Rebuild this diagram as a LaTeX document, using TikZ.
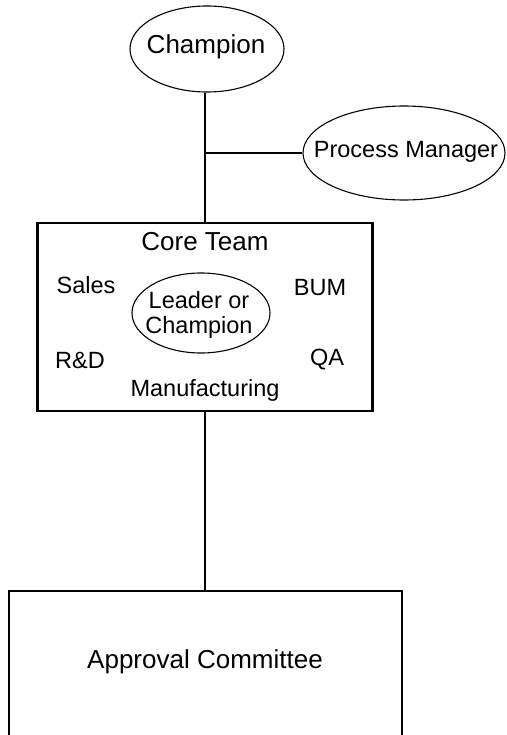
\documentclass[tikz,border=0pt]{standalone}
\usepackage{fontspec}
\setmainfont{Liberation Sans}
\usetikzlibrary{shapes.geometric}
\begin{document}
\begin{tikzpicture}[x=1pt,y=-1pt,
  oval/.style={draw,ellipse,line width=1.1pt,inner sep=0pt},
  boxed/.style={draw,line width=2.2pt,inner sep=0pt},
  link/.style={line width=1.2pt},
  big/.style={font=\fontsize{26}{30}\selectfont},
  mid/.style={font=\fontsize{23.5}{25}\selectfont}]
\useasboundingbox (0,0) rectangle (506,735);
\node[oval,minimum width=154pt,minimum height=86pt] (champ) at (207,49) {};
\node[big] (champt) at (206,47) {Champion};
\node[oval,minimum width=202pt,minimum height=94pt] (pm) at (404,153) {};
\node[mid] (pmt) at (406,152) {Process Manager};
\node[boxed,minimum width=335pt,minimum height=188pt] (core) at (205,317) {};
\node[big] (ct) at (205,242) {Core Team};
\node[mid] (sales) at (86,285) {Sales};
\node[mid] (bum) at (320,288) {BUM};
\node[oval,minimum width=138pt,minimum height=80pt] (lead) at (201,313) {};
\node[mid,align=center] (leadt) at (199,315) {Leader or\\Champion};
\node[mid] (rd) at (80,360) {R\&D};
\node[mid] (qa) at (327,360) {QA};
\node[mid] (manu) at (205,390) {Manufacturing};
\node[boxed,minimum width=393pt,minimum height=160pt] (appr) at (205.5,671) {};
\node[big] (act) at (205,662) {Approval Committee};
\coordinate (j) at (205,153);
\draw[link] (j |- champ.south) -- (j) -- (j |- core.north);
\draw[link] (j) -- (pm.west);
\draw[link] (j |- core.south) -- (j |- appr.north);
\end{tikzpicture}
\end{document}
